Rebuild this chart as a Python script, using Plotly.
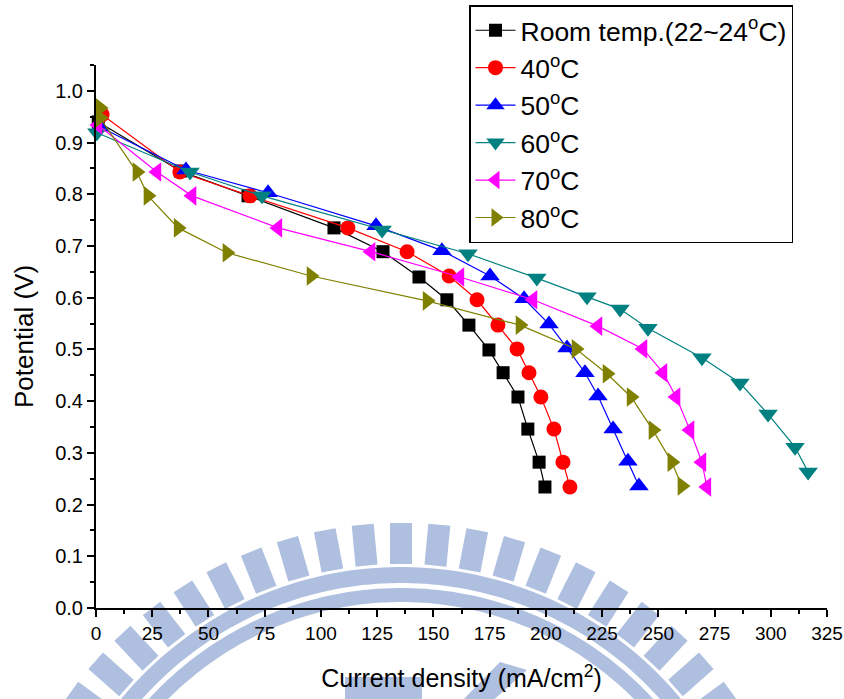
import numpy as np
import plotly.graph_objects as go

# Polarization curves: current density (mA/cm^2) vs cell potential (V)
room_x = [1.0, 37.5, 67.6, 105.8, 127.6, 143.6, 156.0, 165.8, 174.7, 181.0, 187.6, 192.0, 197.0, 199.6]
room_y = [0.940, 0.845, 0.797, 0.735, 0.689, 0.640, 0.596, 0.547, 0.499, 0.455, 0.408, 0.346, 0.282, 0.234]

t40_x = [2.7, 37.3, 68.5, 112.0, 138.3, 157.0, 169.4, 178.7, 187.2, 192.5, 197.8, 203.6, 207.6, 210.7]
t40_y = [0.954, 0.843, 0.797, 0.735, 0.689, 0.642, 0.596, 0.547, 0.501, 0.455, 0.408, 0.346, 0.282, 0.234]

t50_x = [1.8, 40.0, 76.5, 124.5, 153.8, 175.2, 190.3, 201.4, 209.4, 217.4, 223.2, 229.9, 236.5, 241.4]
t50_y = [0.930, 0.847, 0.803, 0.739, 0.691, 0.642, 0.598, 0.549, 0.503, 0.455, 0.410, 0.346, 0.284, 0.236]

t60_x = [0.4, 41.8, 73.8, 127.2, 165.4, 196.0, 218.3, 233.0, 245.4, 269.4, 286.3, 298.8, 310.8, 316.6]
t60_y = [0.919, 0.843, 0.797, 0.731, 0.685, 0.638, 0.602, 0.578, 0.541, 0.484, 0.435, 0.375, 0.311, 0.263]

t70_x = [0.9, 27.1, 42.7, 80.9, 122.3, 161.8, 194.3, 223.2, 243.2, 252.1, 257.9, 264.1, 269.4, 271.6]
t70_y = [0.934, 0.843, 0.797, 0.735, 0.689, 0.640, 0.596, 0.545, 0.501, 0.455, 0.408, 0.344, 0.282, 0.234]

t80_x = [1.8, 1.8, 18.2, 23.1, 36.5, 58.2, 95.6, 147.2, 188.5, 213.4, 227.2, 237.9, 247.6, 256.0, 260.5]
t80_y = [0.967, 0.948, 0.843, 0.797, 0.735, 0.687, 0.642, 0.594, 0.547, 0.501, 0.453, 0.408, 0.344, 0.282, 0.236]

names = ["Room temp.(22~24<sup>o</sup>C)", "40<sup>o</sup>C", "50<sup>o</sup>C",
         "60<sup>o</sup>C", "70<sup>o</sup>C", "80<sup>o</sup>C"]
xs = [room_x, t40_x, t50_x, t60_x, t70_x, t80_x]
ys = [room_y, t40_y, t50_y, t60_y, t70_y, t80_y]
colors = ["#000000", "#ff0000", "#0000ff", "#008080", "#ff00ff", "#808000"]
symbols = ["square", "circle", "triangle-up", "triangle-down", "triangle-left", "triangle-right"]
sizes = [13, 15, 17, 17, 17, 17]

FONT = "Liberation Sans, Arial, sans-serif"

fig = go.Figure()
for i in range(6):
    fig.add_trace(go.Scatter(
        x=xs[i], y=ys[i], name=names[i], mode="lines+markers",
        line=dict(color=colors[i], width=1.2),
        marker=dict(symbol=symbols[i], size=sizes[i], color=colors[i], line=dict(width=0)),
        cliponaxis=False, legendgroup=str(i),
    ))

# ---- university emblem watermark drawn behind the axes (pixel geometry) ----
W, H = 844, 699
L, R, T, B = 96, 17, 65, 91
pw, ph = W - L - R, H - T - B


def to_paper(px, py):
    return (px - L) / pw, (H - B - py) / ph


def path_from(points):
    pts = [to_paper(x, y) for x, y in points]
    return "M " + " L ".join(f"{x:.5f},{y:.5f}" for x, y in pts) + " Z"


cx, cy = 401.0, 930.0
wm_color = "#aebfdf"
shapes = []


def add_poly(points):
    shapes.append(dict(type="path", path=path_from(points), xref="paper", yref="paper",
                       fillcolor=wm_color, line=dict(width=0), layer="below"))


# gear teeth
for k in range(-16, 17):
    th = np.deg2rad(5.4 * k)
    ux, uy = np.sin(th), -np.cos(th)
    vx, vy = np.cos(th), np.sin(th)
    r_in, r_out, hw = 366.0, 407.0, 11.0
    add_poly([
        (cx + ux * r_in - vx * hw, cy + uy * r_in - vy * hw),
        (cx + ux * r_out - vx * hw, cy + uy * r_out - vy * hw),
        (cx + ux * r_out + vx * hw, cy + uy * r_out + vy * hw),
        (cx + ux * r_in + vx * hw, cy + uy * r_in + vy * hw),
    ])


def ring(r_in, r_out, a0=-80, a1=80, n=140):
    a = np.deg2rad(np.linspace(a0, a1, n))
    outer = [(cx + r_out * np.sin(t), cy - r_out * np.cos(t)) for t in a]
    inner = [(cx + r_in * np.sin(t), cy - r_in * np.cos(t)) for t in a[::-1]]
    return outer + inner


add_poly(ring(347.0, 363.0))
add_poly(ring(328.0, 342.0))

# inner emblem pieces near the bottom edge
add_poly([(345, 677), (422, 677), (422, 705), (345, 705)])
add_poly([(500, 662), (527, 670), (488, 705), (458, 705)])

fig.update_layout(
    width=W, height=H,
    margin=dict(l=L, r=R, t=T, b=B, pad=0, autoexpand=False),
    plot_bgcolor="white", paper_bgcolor="white",
    font=dict(family=FONT, size=20, color="black"),
    shapes=shapes,
    showlegend=True,
    legend=dict(
        x=(469 - L) / pw, y=(H - B - 5) / ph, xanchor="left", yanchor="top",
        bordercolor="black", borderwidth=1.5, bgcolor="rgba(255,255,255,0)",
        font=dict(family=FONT, size=26.5, color="black"),
        tracegroupgap=0, traceorder="normal", itemwidth=40,
    ),
    xaxis=dict(
        range=[0, 325], tickmode="array", tickvals=list(range(0, 326, 25)),
        ticktext=[str(v) for v in range(0, 326, 25)],
        showgrid=False, zeroline=False, showline=True, linecolor="black", linewidth=2,
        ticks="outside", ticklen=7, tickwidth=1.5, tickcolor="black",
        minor=dict(tickvals=[12.5 + 25 * k for k in range(13)], ticks="outside", ticklen=4,
                   tickwidth=1.5, tickcolor="black"),
        tickfont=dict(size=19),
        title=dict(text="Current density (mA/cm<sup>2</sup>)", font=dict(size=25), standoff=27),
    ),
    yaxis=dict(
        range=[0, 1.05], tickmode="array", tickvals=[round(0.1 * k, 1) for k in range(11)],
        ticktext=[f"{0.1 * k:.1f}" for k in range(11)],
        showgrid=False, zeroline=False, showline=True, linecolor="black", linewidth=2,
        ticks="outside", ticklen=7, tickwidth=1.5, tickcolor="black",
        minor=dict(tickvals=[0.05 + 0.1 * k for k in range(11)], ticks="outside", ticklen=4,
                   tickwidth=1.5, tickcolor="black"),
        tickfont=dict(size=20),
        title=dict(text="Potential (V)", font=dict(size=26), standoff=14),
    ),
)

fig.write_html("out.html")
